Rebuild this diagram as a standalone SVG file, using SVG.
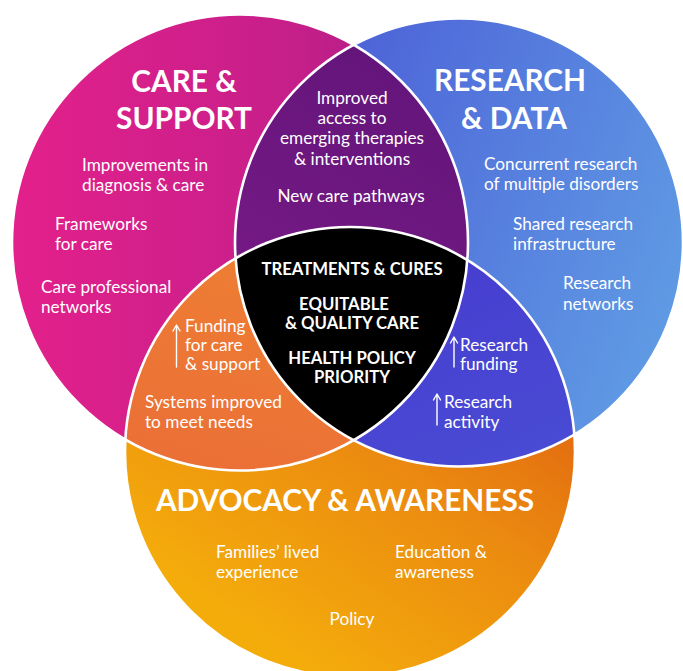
<svg xmlns="http://www.w3.org/2000/svg" width="683" height="671" viewBox="0 0 683 671">
  <style>
    .t { font-family: Lato, "Open Sans", "Liberation Sans", sans-serif; fill: #ffffff; font-size: 17.2px; }
    .h { font-family: Lato, "Open Sans", "Liberation Sans", sans-serif; fill: #ffffff; font-weight: 700; font-size: 29.8px; }
    .c { font-family: Lato, "Open Sans", "Liberation Sans", sans-serif; fill: #ffffff; font-weight: 700; font-size: 16.7px; }
    .mid { text-anchor: middle; }
    .edge { fill: none; stroke: #ffffff; stroke-width: 2.6; }
    .arrow { fill: none; stroke: #ffffff; stroke-width: 1.4; stroke-linecap: round; stroke-linejoin: round; }
  </style>
  <defs>
    <linearGradient id="gCare" x1="0" y1="0" x2="1" y2="0">
      <stop offset="0" stop-color="#E3208B"/>
      <stop offset="0.6" stop-color="#C71F8A"/>
      <stop offset="1" stop-color="#A51C85"/>
    </linearGradient>
    <linearGradient id="gResearch" x1="0" y1="0.2" x2="1" y2="0.6">
      <stop offset="0" stop-color="#4A58D5"/>
      <stop offset="1" stop-color="#5F9AE4"/>
    </linearGradient>
    <linearGradient id="gAdvocacy" x1="0.9" y1="0.15" x2="0.35" y2="0.95">
      <stop offset="0" stop-color="#DE5A10"/>
      <stop offset="0.5" stop-color="#EB8A10"/>
      <stop offset="1" stop-color="#F4AC0B"/>
    </linearGradient>
    <linearGradient id="gPurple" x1="0.8" y1="0" x2="0.2" y2="1">
      <stop offset="0" stop-color="#5A1375"/>
      <stop offset="1" stop-color="#7E1B89"/>
    </linearGradient>
    <linearGradient id="gOrangeRed" x1="0.6" y1="0" x2="0.3" y2="1">
      <stop offset="0" stop-color="#EF8232"/>
      <stop offset="1" stop-color="#E8643A"/>
    </linearGradient>
    <linearGradient id="gIndigo" x1="0.3" y1="0" x2="0.7" y2="1">
      <stop offset="0" stop-color="#4637CD"/>
      <stop offset="1" stop-color="#4A56D8"/>
    </linearGradient>
    <clipPath id="clipCare"><circle cx="240" cy="242.5" r="228"/></clipPath>
    <clipPath id="clipResearch"><circle cx="459" cy="242.5" r="224"/></clipPath>
    <clipPath id="clipAdvocacy"><circle cx="350" cy="452" r="225"/></clipPath>
  </defs>

  <rect x="0" y="0" width="683" height="671" fill="#ffffff"/>

  <!-- Care & Support -->
  <g id="care-support">
    <circle cx="240" cy="242.5" r="228" fill="url(#gCare)"/>
    <text class="h mid" x="184" y="92">CARE &amp;</text>
    <text class="h mid" x="184" y="129">SUPPORT</text>
    <text class="t" x="82" y="171">Improvements in</text>
    <text class="t" x="82" y="191">diagnosis &amp; care</text>
    <text class="t" x="55" y="230">Frameworks</text>
    <text class="t" x="55" y="250">for care</text>
    <text class="t" x="41" y="293">Care professional</text>
    <text class="t" x="41" y="313">networks</text>
  </g>

  <!-- Research & Data -->
  <g id="research-data">
    <circle cx="459" cy="242.5" r="224" fill="url(#gResearch)"/>
    <text class="h mid" x="510" y="91">RESEARCH</text>
    <text class="h mid" x="514" y="129">&amp; DATA</text>
    <text class="t" x="484" y="170">Concurrent research</text>
    <text class="t" x="484" y="190">of multiple disorders</text>
    <text class="t" x="513" y="230">Shared research</text>
    <text class="t" x="513" y="250">infrastructure</text>
    <text class="t" x="563" y="289">Research</text>
    <text class="t" x="563" y="310">networks</text>
  </g>

  <!-- Advocacy & Awareness -->
  <g id="advocacy-awareness">
    <circle cx="350" cy="452" r="225" fill="url(#gAdvocacy)"/>
    <text class="h mid" x="345" y="511">ADVOCACY &amp; AWARENESS</text>
    <text class="t" x="216" y="558">Families’ lived</text>
    <text class="t" x="216" y="578">experience</text>
    <text class="t" x="395" y="558">Education &amp;</text>
    <text class="t" x="395" y="578">awareness</text>
    <text class="t mid" x="352" y="625">Policy</text>
  </g>

  <!-- Care ∩ Research -->
  <g id="care-research">
    <g clip-path="url(#clipCare)">
      <circle cx="459" cy="242.5" r="224" fill="url(#gPurple)"/>
    </g>
    <text class="t mid" x="352" y="104">Improved</text>
    <text class="t mid" x="352" y="124">access to</text>
    <text class="t mid" x="352" y="144">emerging therapies</text>
    <text class="t mid" x="352" y="165">&amp; interventions</text>
    <text class="t mid" x="351" y="202">New care pathways</text>
  </g>

  <!-- Care ∩ Advocacy -->
  <g id="care-advocacy">
    <g clip-path="url(#clipCare)">
      <circle cx="350" cy="452" r="225" fill="url(#gOrangeRed)"/>
    </g>
    <text class="t" x="185" y="332">Funding</text>
    <text class="t" x="185" y="351">for care</text>
    <text class="t" x="185" y="370">&amp; support</text>
    <text class="t" x="145" y="408">Systems improved</text>
    <text class="t" x="145" y="428">to meet needs</text>
  </g>

  <!-- Research ∩ Advocacy -->
  <g id="research-advocacy">
    <g clip-path="url(#clipResearch)">
      <circle cx="350" cy="452" r="225" fill="url(#gIndigo)"/>
    </g>
    <text class="t" x="460" y="351">Research</text>
    <text class="t" x="460" y="370">funding</text>
    <text class="t" x="444" y="408">Research</text>
    <text class="t" x="444" y="428">activity</text>
  </g>

  <!-- All three -->
  <g id="core">
    <g clip-path="url(#clipCare)">
      <g clip-path="url(#clipResearch)">
        <circle cx="350" cy="452" r="225" fill="#000000"/>
      </g>
    </g>
    <text class="c mid" x="352" y="275">TREATMENTS &amp; CURES</text>
    <text class="c mid" x="344" y="310">EQUITABLE</text>
    <text class="c mid" x="352" y="329">&amp; QUALITY CARE</text>
    <text class="c mid" x="352" y="364">HEALTH POLICY</text>
    <text class="c mid" x="352" y="383">PRIORITY</text>
  </g>

  <!-- White circle outlines -->
  <g id="outlines">
    <circle class="edge" cx="240" cy="242.5" r="228"/>
    <circle class="edge" cx="459" cy="242.5" r="224"/>
    <circle class="edge" cx="350" cy="452" r="225"/>
  </g>

  <!-- Up arrows beside the funding and activity labels -->
  <g id="arrows">
    <path class="arrow" d="M176.5 367 V326 M173 331 L176.5 325 L180 331"/>
    <path class="arrow" d="M454 367 V338 M450.5 343 L454 337 L457.5 343"/>
    <path class="arrow" d="M437 425 V395 M433.5 400 L437 394 L440.5 400"/>
  </g>
</svg>
